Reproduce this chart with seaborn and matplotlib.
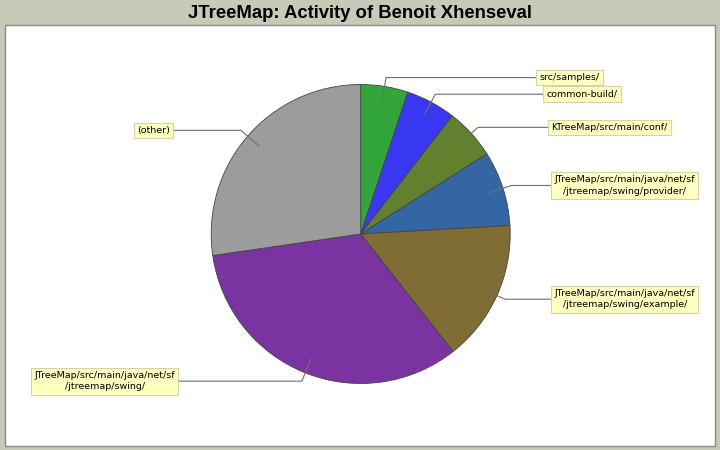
import numpy as np
import matplotlib
matplotlib.use("Agg")
import matplotlib.pyplot as plt
from matplotlib.patches import Rectangle
import seaborn as sns

# Share of activity per source directory (percent)
labels = [
    "src/samples/",
    "common-build/",
    "KTreeMap/src/main/conf/",
    "JTreeMap/src/main/java/net/sf\n/jtreemap/swing/provider/",
    "JTreeMap/src/main/java/net/sf\n/jtreemap/swing/example/",
    "JTreeMap/src/main/java/net/sf\n/jtreemap/swing/",
    "(other)",
]
values = [5.1, 5.4, 5.5, 8.1, 15.3, 33.3, 27.3]
colors = ["#33a63a", "#3838f2", "#62812f", "#3366a3", "#7f6d33", "#7a33a0", "#9c9c9c"]

# Horizontal position of each label box edge (pixels) and which side it sits on
label_x = [539.5, 546.5, 551.5, 554.5, 554.5, 175.0, 170.0]
label_side = ["right", "right", "right", "right", "right", "left", "left"]

sns.set_theme(style="white")
plt.rcParams["font.family"] = ["DejaVu Sans"]

W, H = 720, 450
fig = plt.figure(figsize=(W / 100, H / 100), dpi=100, facecolor="#c9c9b7")
ax = fig.add_axes([0, 0, 1, 1])
ax.set_facecolor("#c9c9b7")

# white plot frame
ax.add_patch(Rectangle((4.5, 4.5), 710.5, 421.0, facecolor="white",
                       edgecolor="#8a8a8a", linewidth=1.0, zorder=0))

cx, cy, r = 360.7, H - 234.0, 149.5
ax.pie(values, colors=colors, startangle=90, counterclock=False,
       center=(cx, cy), radius=r, frame=True,
       wedgeprops=dict(edgecolor="#444444", linewidth=0.6))

total = float(sum(values))
cum = 0.0
for lab, v, lx, side in zip(labels, values, label_x, label_side):
    mid = 90.0 - 360.0 * (cum + v / 2.0) / total
    cum += v
    a = np.deg2rad(mid)
    x0, y0 = cx + 0.9 * r * np.cos(a), cy + 0.9 * r * np.sin(a)
    x1, y1 = cx + 1.06 * r * np.cos(a), cy + 1.06 * r * np.sin(a)
    x2 = lx - 3.5 if side == "right" else lx + 3.5
    ax.plot([x0, x1, x2], [y0, y1, y1], color="#6e6e6e", linewidth=0.8, zorder=3)
    ax.text(lx, y1, lab, ha="left" if side == "right" else "right", va="center",
            multialignment="center", fontsize=6.8, color="black", zorder=5,
            linespacing=1.35,
            bbox=dict(boxstyle="square,pad=0.35", facecolor="#ffffc0",
                      edgecolor="#d4d4a8", linewidth=0.8))

ax.set_xlim(0, W)
ax.set_ylim(0, H)
ax.set_aspect("equal")
ax.axis("off")

fig.text(0.5, 1 - 13 / H, "JTreeMap: Activity of Benoit Xhenseval",
         ha="center", va="center", fontsize=13.3, fontweight="bold",
         family=["Liberation Sans", "DejaVu Sans"], color="black")

fig.savefig("out.png", dpi=100, facecolor=fig.get_facecolor())
